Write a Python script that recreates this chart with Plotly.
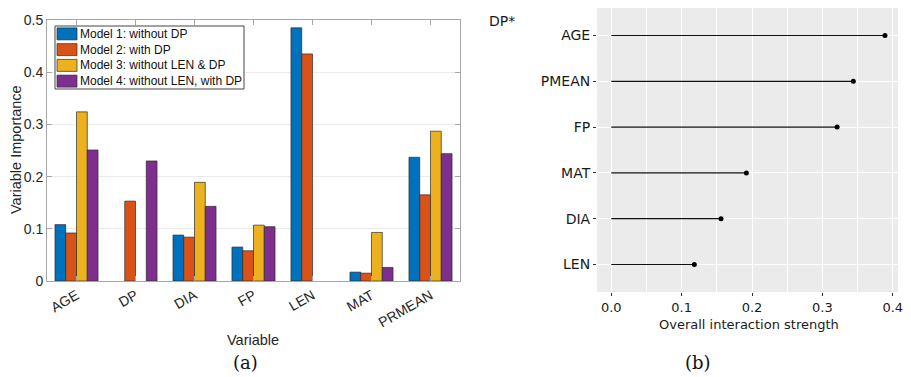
import plotly.graph_objects as go

# ---- data: panel (a) ----
variables = ["AGE", "DP", "DIA", "FP", "LEN", "MAT", "PRMEAN"]
model_names = ["Model 1: without DP", "Model 2: with DP",
               "Model 3: without LEN & DP", "Model 4: without LEN, with DP"]
model1 = [0.108, None, 0.088, 0.065, 0.485, 0.017, 0.237]
model2 = [0.092, 0.153, 0.084, 0.058, 0.435, 0.015, 0.165]
model3 = [0.324, None, 0.189, 0.107, None, 0.093, 0.287]
model4 = [0.251, 0.230, 0.143, 0.104, None, 0.026, 0.244]
model_colors = ["#0072BD", "#D95319", "#EDB120", "#7E2F8E"]

# ---- data: panel (b) ----
inter_vars = ["AGE", "PMEAN", "FP", "MAT", "DIA", "LEN"]
inter_vals = [0.389, 0.344, 0.321, 0.192, 0.156, 0.118]

# page body has an 8px margin: figure sits at (8, 8)
OFF = 8
W, H = 911 - OFF, 377 - OFF
def px(x): return (x - OFF) / W
def py(y): return 1 - (y - OFF) / H

fig = go.Figure()

bar_edge = "rgba(40,40,40,0.85)"
for name, vals, col in zip(model_names, [model1, model2, model3, model4], model_colors):
    fig.add_trace(go.Bar(
        x=variables, y=vals, name=name, marker_color=col,
        marker_line=dict(color=bar_edge, width=0.8), showlegend=False,
        xaxis="x", yaxis="y"))

# lollipop segments
seg_x, seg_y = [], []
for v, val in zip(inter_vars, inter_vals):
    seg_x += [0, val, None]
    seg_y += [v, v, None]
fig.add_trace(go.Scatter(x=seg_x, y=seg_y, mode="lines",
                         line=dict(color="#111111", width=1.2),
                         showlegend=False, xaxis="x2", yaxis="y2", hoverinfo="skip"))
fig.add_trace(go.Scatter(x=inter_vals, y=inter_vars, mode="markers",
                         marker=dict(color="black", size=5),
                         showlegend=False, xaxis="x2", yaxis="y2"))

axis_gray = "#A6A6A6"
sans = "Liberation Sans, Arial, sans-serif"
left_font = dict(family=sans, size=14, color="#262626")
right_font = "DejaVu Sans, sans-serif"

shapes = [dict(type="rect", xref="x2 domain", yref="y2 domain",
               x0=0, x1=1, y0=0, y1=1, fillcolor="#EBEBEB",
               line=dict(width=0), layer="below")]
annotations = []

# manual legend box (MATLAB style)
leg_left, leg_right, leg_top, leg_bot = 55, 244, 26, 89
shapes.append(dict(type="rect", xref="paper", yref="paper",
                   x0=px(leg_left), x1=px(leg_right), y0=py(leg_bot), y1=py(leg_top),
                   fillcolor="white", line=dict(color="#444444", width=1), layer="above"))
row_h = (leg_bot - leg_top) / 4
for i, (name, col) in enumerate(zip(model_names, model_colors)):
    cy = leg_top + row_h * (i + 0.5)
    shapes.append(dict(type="rect", xref="paper", yref="paper",
                       x0=px(57), x1=px(77), y0=py(cy + 6), y1=py(cy - 6),
                       fillcolor=col, line=dict(color=bar_edge, width=0.8), layer="above"))
    annotations.append(dict(text=name, x=px(78), y=py(cy), xref="paper", yref="paper",
                            xanchor="left", yanchor="middle", showarrow=False,
                            font=dict(family=sans, size=12, color="#111111")))

annotations += [
    dict(text="Variable Importance", x=px(16), y=py(150), xref="paper", yref="paper",
         xanchor="center", yanchor="middle",
         textangle=-90, showarrow=False, font=dict(family=sans, size=14.5, color="#262626")),
    dict(text="Variable", x=px(253), y=py(340), xref="paper", yref="paper",
         xanchor="center", yanchor="middle",
         showarrow=False, font=dict(family=sans, size=14.5, color="#262626")),
    dict(text="(a)", x=px(245), y=py(362), xref="paper", yref="paper",
         xanchor="center", yanchor="middle",
         showarrow=False, font=dict(family="DejaVu Serif, serif", size=18, color="#111111")),
    dict(text="DP*", x=px(487), y=py(21), xref="paper", yref="paper",
         xanchor="left", yanchor="middle",
         showarrow=False, font=dict(family=right_font, size=14, color="#1A1A1A")),
    dict(text="Overall interaction strength", x=px(749), y=py(324), xref="paper", yref="paper",
         xanchor="center", yanchor="middle",
         showarrow=False, font=dict(family=right_font, size=13, color="#1A1A1A")),
    dict(text="(b)", x=px(698), y=py(362), xref="paper", yref="paper",
         xanchor="center", yanchor="middle",
         showarrow=False, font=dict(family="DejaVu Serif, serif", size=18, color="#111111")),
]

fig.update_layout(
    width=W, height=H, autosize=False,
    margin=dict(l=0, r=0, t=0, b=0, autoexpand=False),
    paper_bgcolor="white", plot_bgcolor="white",
    barmode="group", bargap=0.27, bargroupgap=0.0,
    font=left_font, showlegend=False,
    xaxis=dict(domain=[px(47), px(460)], anchor="y", automargin=False,
               tickangle=-30, ticks="inside", ticklen=5, tickcolor=axis_gray,
               showline=True, linecolor=axis_gray, linewidth=1, mirror="ticks",
               tickfont=dict(size=14, color="#262626"), showgrid=False),
    yaxis=dict(domain=[py(281), py(20)], anchor="x", range=[0, 0.5], dtick=0.1,
               automargin=False,
               ticks="inside", ticklen=5, tickcolor=axis_gray,
               showline=True, linecolor=axis_gray, linewidth=1, mirror="ticks",
               showgrid=True, gridcolor="#EBEBEB", gridwidth=1, zeroline=False,
               tickfont=dict(size=14, color="#262626")),
    xaxis2=dict(domain=[px(597), px(898)], anchor="y2", range=[-0.0203, 0.4075],
                automargin=False,
                tickvals=[0, 0.1, 0.2, 0.3, 0.4], ticktext=["0.0", "0.1", "0.2", "0.3", "0.4"],
                showgrid=True, gridcolor="white", gridwidth=1.2, zeroline=False,
                minor=dict(tickvals=[0.05, 0.15, 0.25, 0.35], showgrid=True,
                           gridcolor="white", gridwidth=0.5, ticks=""),
                ticks="outside", ticklen=3, tickcolor="#333333", showline=False,
                tickfont=dict(family=right_font, size=13, color="#1A1A1A")),
    yaxis2=dict(domain=[py(292), py(8)], anchor="x2", type="category",
                automargin=False,
                categoryorder="array", categoryarray=inter_vars[::-1],
                range=[-0.6, 5.6], showgrid=True, gridcolor="white", gridwidth=1.2,
                ticks="outside", ticklen=3, tickcolor="#333333", showline=False,
                zeroline=False,
                tickfont=dict(family=right_font, size=14, color="#1A1A1A")),
    shapes=shapes,
    annotations=annotations,
)

fig.write_html("out.html")
